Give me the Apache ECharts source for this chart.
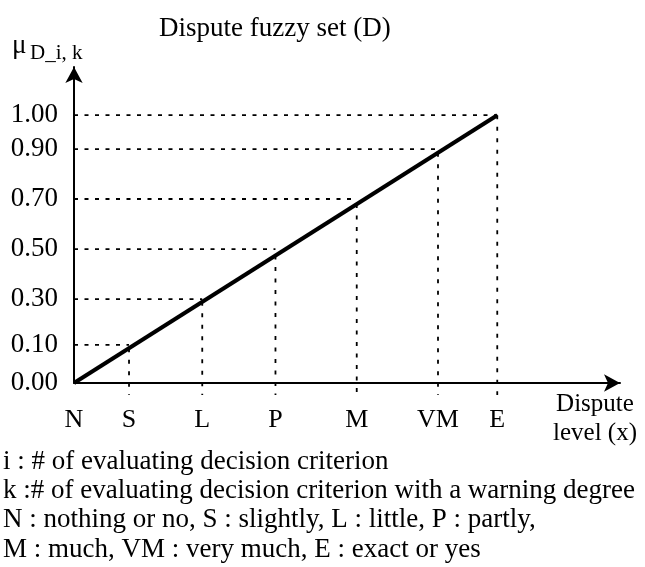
<!DOCTYPE html>
<html><head><meta charset="utf-8">
<script src="https://cdn.jsdelivr.net/npm/echarts@6/dist/echarts.min.js"></script>
<style>html,body{margin:0;padding:0;background:#fff}#c{width:645px;height:567px}</style>
</head><body><div id="c"></div>
<script>
// Linguistic levels of the dispute and where each is drawn along the x axis (N = 0, E = 1)
const levels = ['N', 'S', 'L', 'P', 'M', 'VM', 'E'];
const levelPos = [0, 0.13, 0.303, 0.476, 0.668, 0.86, 1.0];
// Membership tick labels and the height at which each is drawn on the y axis
const muLabels = ['0.00', '0.10', '0.30', '0.50', '0.70', '0.90', '1.00'];
const muPos = [0, 0.142, 0.313, 0.5, 0.687, 0.873, 1.0];
const titleText = 'Dispute fuzzy set (D)';
const notes = [
  'i : # of evaluating decision criterion',
  'k :# of evaluating decision criterion with a warning degree',
  'N : nothing or no, S : slightly, L : little, P : partly,',
  'M : much, VM : very much, E : exact or yes'
];

const FONT = "'Liberation Serif', 'Times New Roman', serif";
const n = levels.length;
const x0 = levelPos[0], x1 = levelPos[n - 1], y0 = muPos[0], y1 = muPos[n - 1];
const lineAt = x => y0 + (x - x0) * (y1 - y0) / (x1 - x0);
const idx = (arr, v) => { let b = 0; arr.forEach((a, i) => { if (Math.abs(a - v) < Math.abs(arr[b] - v)) b = i; }); return b; };

const series = [];
for (let i = 1; i < n; i++) {
  // horizontal guide from the y axis to the level
  series.push({
    type: 'line', silent: true, showSymbol: false, clip: false, z: 2,
    lineStyle: { color: '#000', width: 1.8, type: [4, 6.5] },
    data: [[x0, muPos[i]], [levelPos[i], muPos[i]]]
  });
  // vertical guide from the membership line down past the x axis
  series.push({
    type: 'line', silent: true, showSymbol: false, clip: false, z: 2,
    lineStyle: { color: '#000', width: 1.8, type: [4, 7.5] },
    data: [[levelPos[i], lineAt(levelPos[i])], [levelPos[i], -0.045]]
  });
}
series.push({
  type: 'line', silent: true, showSymbol: false, z: 5,
  lineStyle: { color: '#000', width: 4 },
  data: [[x0, y0], [x1, y1]]
});

const chart = echarts.init(document.getElementById('c'), null, { renderer: 'canvas' });
chart.setOption({
  animation: false,
  backgroundColor: '#fff',
  title: {
    text: titleText, left: 154, top: 10,
    textStyle: { fontFamily: FONT, fontSize: 27, fontWeight: 'normal', color: '#000' }
  },
  grid: { left: 74, top: 67, width: 546, height: 316 },
  xAxis: {
    type: 'value', min: 0, max: 1.29,
    axisLine: { onZero: false, symbol: ['none', 'arrow'], symbolSize: [13, 16], lineStyle: { color: '#000', width: 2 } },
    axisTick: { show: false }, splitLine: { show: false },
    axisLabel: {
      customValues: levelPos, margin: 24, color: '#000', fontFamily: FONT, fontSize: 26,
      formatter: v => levels[idx(levelPos, v)]
    }
  },
  yAxis: {
    type: 'value', min: 0, max: 1.18,
    axisLine: { onZero: false, symbol: ['none', 'arrow'], symbolSize: [13, 16], lineStyle: { color: '#000', width: 2 } },
    axisTick: { show: false }, splitLine: { show: false },
    axisLabel: {
      customValues: muPos, margin: 16, color: '#000', fontFamily: FONT, fontSize: 27,
      formatter: v => muLabels[idx(muPos, v)]
    }
  },
  graphic: [
    { type: 'text', left: 12, top: 32, style: { text: 'μ', font: '27px ' + FONT, fill: '#000' } },
    { type: 'text', left: 30, top: 43, style: { text: 'D_i, k', font: '21px ' + FONT, fill: '#000' } },
    { type: 'text', x: 595, y: 390, style: { text: 'Dispute\nlevel (x)', font: '25px ' + FONT, lineHeight: 29, fill: '#000', align: 'center' } },
    { type: 'text', x: 3, y: 447, style: { text: notes.join('\n'), font: '27px ' + FONT, lineHeight: 29.3, fill: '#000' } }
  ],
  series: series
});
</script></body></html>
